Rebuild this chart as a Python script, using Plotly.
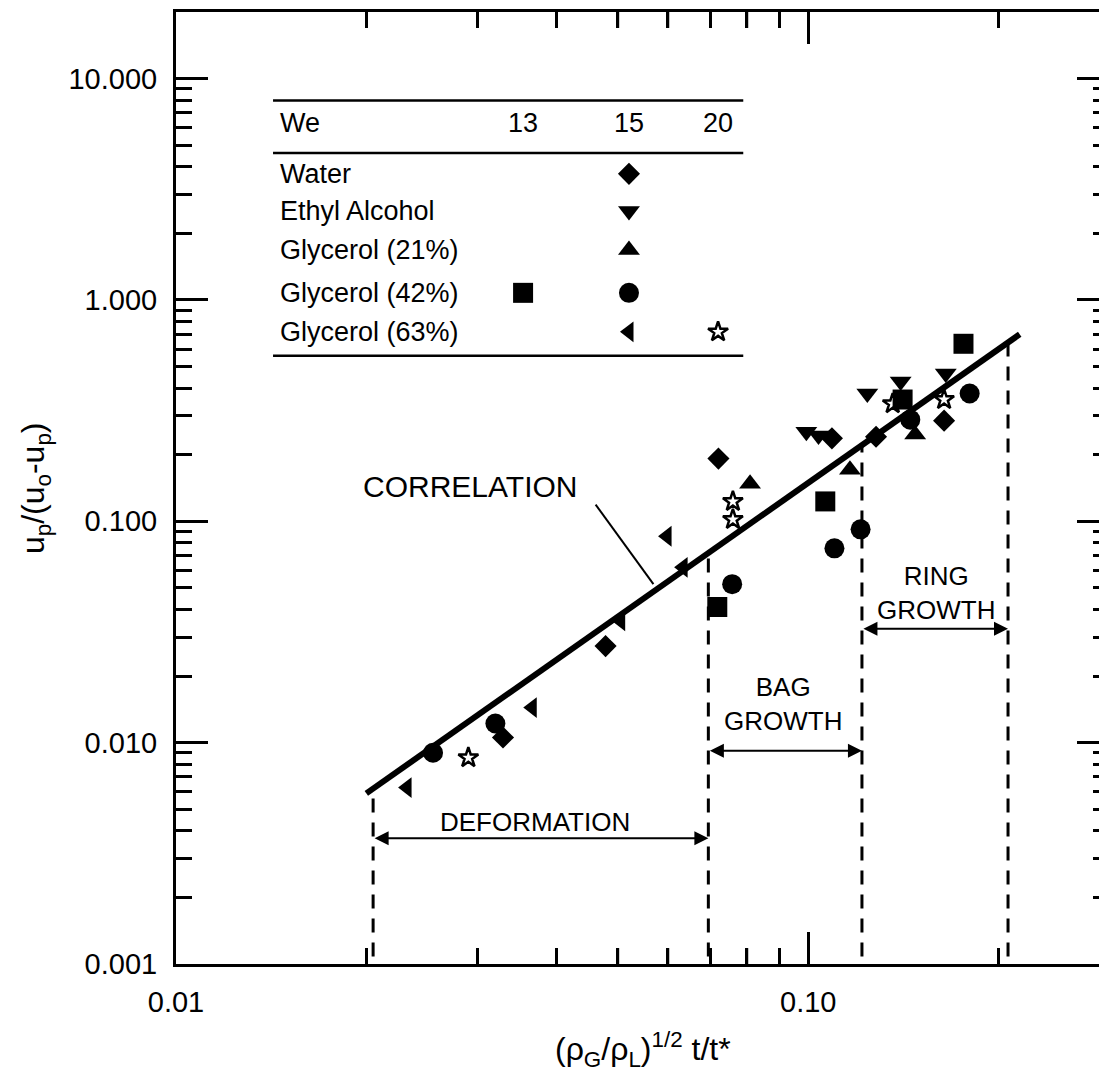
import math
import plotly.graph_objects as go

# ---------------- data ----------------
# x = (rho_G/rho_L)^(1/2) t/t*,  y = u_p/(u_0-u_p)
water_x = [0.0721, 0.164, 0.0478, 0.0329, 0.109, 0.128]
water_y = [0.192, 0.285, 0.0273, 0.01055, 0.237, 0.241]

ethyl_x = [0.0993, 0.1038, 0.124, 0.140, 0.165]
ethyl_y = [0.254, 0.244, 0.378, 0.428, 0.465]

glyc21_x = [0.0809, 0.1164, 0.1476]
glyc21_y = [0.148, 0.171, 0.247]

glyc42_we13_x = [0.176, 0.1064, 0.0718, 0.141]
glyc42_we13_y = [0.634, 0.123, 0.041, 0.355]

glyc42_we15_x = [0.180, 0.121, 0.110, 0.0758, 0.032, 0.0255, 0.145]
glyc42_we15_y = [0.378, 0.092, 0.0755, 0.052, 0.0122, 0.0090, 0.288]

glyc63_we15_x = [0.0598, 0.0634, 0.0505, 0.0366, 0.0232]
glyc63_we15_y = [0.0856, 0.062, 0.0355, 0.0144, 0.00627]

glyc63_we20_x = [0.076, 0.076, 0.029, 0.164, 0.136]
glyc63_we20_y = [0.123, 0.102, 0.00855, 0.355, 0.340]

correlation_x = [0.020, 0.216]
correlation_y = [0.0059, 0.70]

# regime boundaries (dashed lines) and their top on the correlation
boundary_x = [0.0205, 0.0695, 0.1216, 0.207]
boundary_top_y = [0.0062, 0.072, 0.222, 0.64]

# regime arrows: (x start, x end, y level)
regime_names = ["DEFORMATION", "BAG<br>GROWTH", "RING<br>GROWTH"]
regime_x0 = [0.0205, 0.0695, 0.1216]
regime_x1 = [0.0695, 0.1216, 0.207]
regime_arrow_y = [0.0037, 0.0092, 0.0327]
regime_label_x = [0.037, 0.0912, 0.159]
regime_label_y = [0.00436, 0.0150, 0.0474]

corr_label_x, corr_label_y = 0.0292, 0.144
corr_leader_x = [0.0461, 0.0569]
corr_leader_y = [0.119, 0.052]

x_ticks = [0.01, 0.1]
x_ticktext = ["0.01", "0.10"]
y_ticks = [0.001, 0.01, 0.1, 1, 10]
y_ticktext = ["0.001", "0.010", "0.100", "1.000", "10.000"]
X_RANGE = [0.01, 0.299]
Y_RANGE = [0.001, 20]

# legend table
legend_rows = ["Water", "Ethyl Alcohol", "Glycerol (21%)", "Glycerol (42%)", "Glycerol (63%)"]
legend_we = ["13", "15", "20"]

FONT = "Liberation Sans, Arial, sans-serif"

LX0, LX1 = math.log10(X_RANGE[0]), math.log10(X_RANGE[1])
LY0, LY1 = math.log10(Y_RANGE[0]), math.log10(Y_RANGE[1])
PLOT_H = 955.0  # plot-area height in px
MAJOR_LEN, MINOR_LEN = 32, 16


def frac_to_x(f):
    return 10 ** (LX0 + f * (LX1 - LX0))


def frac_to_y(f):
    return 10 ** (LY0 + f * (LY1 - LY0))


def minor_vals(lo_exp, hi_val):
    vals = []
    for e in range(lo_exp, 2):
        for k in range(2, 10):
            v = k * 10 ** e
            if v < hi_val:
                vals.append(v)
    return vals


x_minor_ticks = minor_vals(-2, X_RANGE[1])
y_minor_ticks = minor_vals(-3, Y_RANGE[1])

# ---------------- figure ----------------
fig = go.Figure()


def add_markers(xs, ys, symbol, size, open_=False):
    fig.add_trace(go.Scatter(
        x=xs, y=ys, mode="markers", showlegend=False, hoverinfo="skip",
        marker=dict(symbol=symbol, size=size, color="black",
                    line=dict(color="black", width=2.5 if open_ else 0))))


# x-axis tick marks along top and bottom frame (inside)
tx, ty = [], []
for v in x_ticks[1:] + x_minor_ticks:
    ln = (MAJOR_LEN if v in x_ticks else MINOR_LEN) / PLOT_H
    for f0, f1 in ((1.0, 1.0 - ln), (0.0, ln)):
        tx += [v, v, None]
        ty += [frac_to_y(f0), frac_to_y(f1), None]
fig.add_trace(go.Scatter(x=tx, y=ty, mode="lines", line=dict(color="black", width=2.5),
                         showlegend=False, hoverinfo="skip", cliponaxis=False))

# correlation line
fig.add_trace(go.Scatter(x=correlation_x, y=correlation_y, mode="lines",
                         line=dict(color="black", width=6), showlegend=False,
                         hoverinfo="skip"))
# dashed boundaries
for bx, by in zip(boundary_x, boundary_top_y):
    fig.add_trace(go.Scatter(x=[bx, bx], y=[Y_RANGE[0] * 1.08, by], mode="lines",
                             line=dict(color="black", width=3, dash="14px,10px"),
                             showlegend=False, hoverinfo="skip"))
# leader line for CORRELATION label
fig.add_trace(go.Scatter(x=corr_leader_x, y=corr_leader_y, mode="lines",
                         line=dict(color="black", width=2), showlegend=False,
                         hoverinfo="skip"))

SYM = {
    "water": ("diamond", 17),
    "ethyl": ("triangle-down", 19),
    "g21": ("triangle-up", 19),
    "g42_13": ("square", 20),
    "g42_15": ("circle", 20),
    "g63_15": ("triangle-left", 18),
    "g63_20": ("star-open", 15),
}

add_markers(water_x, water_y, *SYM["water"])
add_markers(ethyl_x, ethyl_y, *SYM["ethyl"])
add_markers(glyc21_x, glyc21_y, *SYM["g21"])
add_markers(glyc42_we13_x, glyc42_we13_y, *SYM["g42_13"])
add_markers(glyc42_we15_x, glyc42_we15_y, *SYM["g42_15"])
add_markers(glyc63_we15_x, glyc63_we15_y, *SYM["g63_15"])
add_markers(glyc63_we20_x, glyc63_we20_y, *SYM["g63_20"], open_=True)

# ---- legend table (positions as fractions of the plot area) ----
tab_left, tab_right = 0.104, 0.608
tab_lines_y = [0.907, 0.852, 0.639]
text_x = 0.109
header_y = 0.883
row_y = [0.830, 0.791, 0.750, 0.705, 0.664]
col_x = [0.372, 0.4855, 0.581]

legend_markers = [
    ("water", 1, 0), ("ethyl", 1, 1), ("g21", 1, 2),
    ("g42_13", 0, 3), ("g42_15", 1, 3), ("g63_15", 1, 4), ("g63_20", 2, 4),
]
for key, ci, ri in legend_markers:
    sym, sz = SYM[key]
    add_markers([frac_to_x(col_x[ci])], [frac_to_y(row_y[ri])], sym, sz,
                open_=(key == "g63_20"))

shapes = []
for ly in tab_lines_y:
    shapes.append(dict(type="line", xref="paper", yref="paper", x0=tab_left, x1=tab_right,
                       y0=ly, y1=ly, line=dict(color="black", width=2.5)))

LEG_FONT = dict(family=FONT, size=27, color="black")
annotations = []
annotations.append(dict(text="We", x=text_x, y=header_y, xref="paper", yref="paper",
                        xanchor="left", yanchor="middle", showarrow=False, font=LEG_FONT))
for cx, t in zip(col_x, legend_we):
    annotations.append(dict(text=t, x=cx, y=header_y, xref="paper", yref="paper",
                            xanchor="center", yanchor="middle", showarrow=False,
                            font=LEG_FONT))
for ry, t in zip(row_y, legend_rows):
    annotations.append(dict(text=t, x=text_x, y=ry, xref="paper", yref="paper",
                            xanchor="left", yanchor="middle", showarrow=False,
                            font=LEG_FONT))

# regime arrows & labels (annotations on log axes use log10 coordinates)
for name, x0, x1, ay, lx, lyv in zip(regime_names, regime_x0, regime_x1, regime_arrow_y,
                                     regime_label_x, regime_label_y):
    annotations.append(dict(x=math.log10(x1), y=math.log10(ay), ax=math.log10(x0),
                            ay=math.log10(ay), xref="x", yref="y", axref="x", ayref="y",
                            text="", showarrow=True, arrowside="end+start", arrowhead=2,
                            arrowsize=1.4, arrowwidth=2, arrowcolor="black",
                            standoff=0, startstandoff=0))
    annotations.append(dict(text=name, x=math.log10(lx), y=math.log10(lyv), xref="x", yref="y",
                            showarrow=False, xanchor="center", yanchor="middle",
                            font=dict(family=FONT, size=26, color="black")))

annotations.append(dict(text="CORRELATION", x=math.log10(corr_label_x), y=math.log10(corr_label_y),
                        xref="x", yref="y", showarrow=False, xanchor="center", yanchor="middle",
                        font=dict(family=FONT, size=30, color="black")))

# axis titles
annotations.append(dict(text="u<sub>p</sub>/(u<sub>o</sub>-u<sub>p</sub>)",
                        x=-0.151, y=0.50, xref="paper", yref="paper", textangle=-90,
                        showarrow=False, xanchor="center", yanchor="middle",
                        font=dict(family=FONT, size=32, color="black")))
annotations.append(dict(text="(ρ<sub>G</sub>/ρ<sub>L</sub>)<sup>1/2</sup> t/t*",
                        x=0.50, y=-0.090, xref="paper", yref="paper",
                        showarrow=False, xanchor="center", yanchor="middle",
                        font=dict(family=FONT, size=32, color="black")))

axis_common = dict(type="log", showgrid=False, zeroline=False, showline=True,
                   linecolor="black", linewidth=3, mirror="allticks", ticks="inside",
                   ticklen=MAJOR_LEN, tickwidth=2.5, tickcolor="black",
                   tickfont=dict(family=FONT, size=29, color="black"))

# the page body adds an 8px offset, compensated in the margins
fig.update_layout(
    width=1107, height=1084,
    margin=dict(l=168, r=6, t=1, b=128),
    paper_bgcolor="white", plot_bgcolor="white",
    showlegend=False,
    xaxis=dict(**axis_common, range=[LX0, LX1],
               tickmode="array", tickvals=x_ticks, ticktext=x_ticktext,
               ticklabelstandoff=10,
               minor=dict(tickmode="array", tickvals=x_minor_ticks,
                          ticks="inside", ticklen=MINOR_LEN, tickwidth=2.5,
                          tickcolor="black", showgrid=False)),
    yaxis=dict(**axis_common, range=[LY0, LY1],
               tickmode="array", tickvals=y_ticks, ticktext=y_ticktext,
               ticklabelstandoff=10,
               minor=dict(tickmode="array", tickvals=y_minor_ticks,
                          ticks="inside", ticklen=MINOR_LEN, tickwidth=2.5,
                          tickcolor="black", showgrid=False)),
    shapes=shapes,
    annotations=annotations,
)

fig.write_html("out.html")
